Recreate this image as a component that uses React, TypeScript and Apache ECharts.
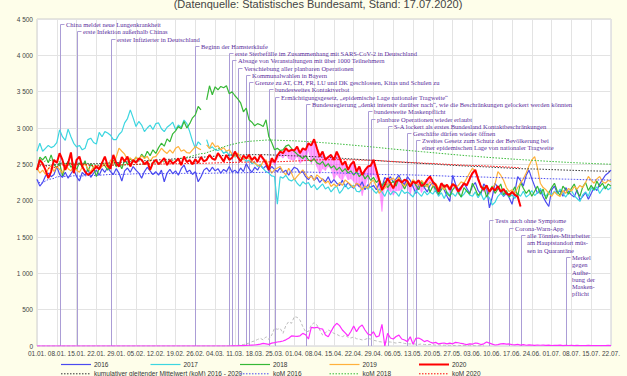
import React, { useEffect, useRef } from 'react';
import * as echarts from 'echarts';

const tickLabels = ['01.01.','08.01.','15.01.','22.01.','29.01.','05.02.','12.02.','19.02.','26.02.','04.03.','11.03.','18.03.','25.03.','01.04.','08.04.','15.04.','22.04.','29.04.','06.05.','13.05.','20.05.','27.05.','03.06.','10.06.','17.06.','24.06.','01.07.','08.07.','15.07.','22.07.'];

const d2016 = [
2290,2200,2250,2340,2380,2330,2360, 2470,2360,2320,2390,2310,2370,2430,
2330,2270,2390,2350,2440,2320,2380, 2420,2350,2440,2390,2460,2400,2360,
2440,2380,2270,2410,2450,2390,2470, 2420,2380,2310,2400,2460,2410,2360,
2400,2350,2420,2260,2380,2430,2370, 2410,2350,2440,2490,2390,2420,2360,
2400,2260,2330,2420,2450,2400,2460, 2410,2440,2380,2430,2400,2470,2390,
2420,2380,2450,2400,2510,2440,2390, 2460,2420,2490,2440,2480,2410,2470,
2430,2400,2450,2390,2420,2350,2410, 2460,2440,2380,2400,2330,2290,2350,
2280,2320,2250,2300,2260,2330,2240, 2290,2240,2210,2280,2190,2250,2200,
2170,2240,2190,2260,2150,2220,2180, 2210,2150,2240,2190,2320,2280,2330,
2250,2300,2350,2260,2220,2330,2280, 2190,2100,2220,2260,2180,2120,2210,
2250,2130,2080,2190,2150,2060,1990, 2350,2230,2150,2190,2240,2170,2100,
2200,2250,2140,2090,2230,2180,1900, 2050,2240,2180,2120,2060,2100,2040,
1950,2120,2330,2280,2200,2350,2420, 2300,2200,2100,2150,2050,1980,1920,
2150,2200,2100,2140,2060,2180,2120, 2080,2050,2150,2010,2060,2110,2020,
2100,2180,2140,2230,2290,2350,2380, 2420];

const d2017 = [
2680,2790,2680,2720,2760,2730,2750, 2800,2975,2880,2830,2985,2880,2790,
2740,2760,2700,2722,2840,2860,2800, 2780,2940,2880,2950,2930,2900,2840,
2840,2910,2950,3070,3130,3250,3140, 3020,3090,3040,2950,3000,3040,2980,
3060,3070,2990,2950,3010,3040,3080, 2980,3040,3010,3110,3060,2950,2820,
2720,2810,2770,null,2840,2720,2740, 2700,2690,2710,2650,2680,2620,2640,
2600,2620,2560,2580,2540,2560,2510, 2530,2470,2500,2440,2400,2380,2340,
2333,1950,2330,2310,2350,2290,2270, 2300,2240,2200,2260,2230,2250,2180,
2220,2150,2190,2230,2160,2190,2120, 2170,2200,2100,2150,2220,2160,2190,
2210,2130,2120,2170,2200,2160,2190, 2140,2100,2160,2120,2060,2150,2080,
2130,2110,2060,2150,2100,2120,2090, 2050,2140,2100,2060,2130,2080,2120,
2090,2150,2060,2110,2030,2120,2080, 2100,2060,2140,2050,2090,2150,2080,
2060,2120,2040,2100,2010,2070,2040, 1940,1980,2060,2100,2070,2120,2050,
2080,2030,2100,2060,2130,2050,2080, 2140,2070,2110,2170,2090,2060,2120,
2080,2130,2090,2160,2100,2050,2110, 2140,2070,2030,1990,2080,2120,2060,
2180,2140,2190,2100,2160,2200,2150, 2180];

const d2018 = [
2420,2600,2560,2610,2520,2630,2500, 2450,2520,2340,2480,2540,2460,2500,
2430,2520,2470,2550,2400,2500,2460, 2330,2450,2530,2480,2420,2500,2560,
2470,2520,2440,2560,2500,2580,2530, 2600,2560,2640,2590,2680,2620,2700,
2650,2730,2790,2750,2850,2810,2920, 2960,3020,2990,3090,3000,3060,3140,
3180,3296,3250,null,3388,3581,3457, 3567,3526,3572,3553,3581,3471,3499,
3444,3402,3347,3223,3274,3113,3080, 3030,3060,3044,3020,3113,2879,2800,
2700,2720,2690,2700,2750,2768,2720, 2676,2640,2610,2580,2620,2562,2540,
2580,2520,2500,2540,2470,2510,2450, 2480,2420,2460,2400,2440,2380,2410,
2350,2400,2330,2380,2300,2350,2280, 2320,2250,2290,2200,2260,2180,2230,
2270,2200,2320,2240,2160,2250,2190, 2280,2210,2150,2260,2190,2230,2120,
2200,2170,2090,2150,2220,2100,2060, 2150,2200,2110,2050,2180,2130,2090,
2240,2160,2070,2120,2190,2050,2130, 2200,2100,2160,2230,2080,2140,2050,
2120,2190,2060,2250,2170,2100,2150, 2060,2130,2200,2090,2160,2020,2110,
2180,2240,2130,2070,2200,2150,2090, 2170,2230,2120,2060,2190,2250,2140,
2210,2150,2270,2190,2240,2160,2230, 2200];

const d2019 = [
2450,2380,2420,2360,2440,2480,2400, 2470,2430,2380,2500,2440,2410,2480,
2420,2390,2460,2510,2440,2400,2470, 2480,2430,2470,2520,2450,2560,2510,
2600,2722,2680,2640,2560,2590,2540, 2600,2560,2620,2580,2610,2540,2600,
2607,2660,2722,2680,2650,2700,2653, 2720,2745,2680,2700,2660,2653,2700,
2745,2720,2700,null,2768,2720,2800, 2740,2755,2700,2730,2680,2700,2640,
2607,2653,2600,2562,2600,2580,2540, 2516,2490,2470,2540,2562,2460,2378,
2424,2450,2470,2400,2355,2447,2380, 2286,2333,2380,2424,2360,2309,2340,
2280,2355,2320,2290,2240,2270,2195, 2230,2195,2250,2210,2286,2250,2218,
2180,2240,2218,2148,2200,2170,2250, 2286,2200,2102,2150,2170,2230,2290,
2310,2260,2320,2240,2200,2260,2230, 2290,2250,2210,2280,2230,2190,2260,
2200,2240,2170,2195,2150,2210,2180, 2230,2180,2210,2260,2240,2310,2380,
2447,2400,2310,2200,2148,2190,2120, 2170,2230,2400,2350,2280,2180,2125,
2150,2100,2180,2240,2300,2380,2480, 2560,2607,2450,2240,2180,2150,2100,
2060,2120,2080,2057,2140,2100,2170, 2130,2195,2160,2210,2180,2250,2333,
2280,2240,2300,2333,2260,2240,2280, 2260];

const d2020 = [
2424,2562,2510,2424,2310,2400,2562, 2520,2653,2560,2424,2516,2663,2378,
2562,2607,2470,2400,2355,2380,2424, 2470,2430,2520,2607,2480,2440,2630,
2520,2470,2600,2540,2607,2470,2562, 2520,2580,2562,2500,2540,2424,2520,
2562,2500,2540,2585,2490,2560,2510, 2539,2580,2490,2607,2530,2560,2500,
2570,2520,2600,2540,2562,2630,2580, 2560,2653,2600,2539,2630,2562,2590,
2676,2600,2540,2620,2580,2630,2560, 2600,2540,2630,2580,2516,2424,2585,
2530,2620,2676,2653,2722,2680,2700, 2690,2745,2653,2720,2700,2790,2760,
2845,2722,2607,2676,2562,2600,2630, 2560,2676,2590,2493,2540,2424,2500,
2539,2400,2470,2355,2420,2470,2480, 2562,2424,2286,2148,2218,2310,2240,
2170,2264,2286,2250,2290,2270,2195, 2263,2240,2280,2200,2230,2290,2333,
2260,2218,2125,2240,2190,2218,2150, 2230,2200,2125,2180,2240,2210,2300,
2380,2424,2300,2195,2150,2210,2125, 2180,2140,2200,2125,2160,2100,2080,
2120,2080,2056,1920];

const covidDeaths = [
0,0,0,0,0,0,0,0,0,0, 0,0,0,0,0,0,0,0,0,0, 0,0,0,0,0,0,0,0,0,0,
0,0,0,0,0,0,0,0,0,0, 0,0,0,0,0,0,0,0,0,0, 0,0,0,0,0,0,0,0,0,0,
0,0,0,0,0,0,0,0,0,
2,2,3,4,5,8,10, 12,14,20,25,37,30,23, 40,46,55,60,69,85,106,
138,135,133,140,174,155,96, 257,250,257,240,234,150,128, 200,270,312,280,220,180,138,
200,275,197,260,289,220,165, 150,197,124,140,299,0,174, 110,96,130,150,96,83,60,
128,23,106,110,90,60,75, 55,40,50,28,35,41,30, 40,30,50,45,35,28,20,
30,25,41,35,20,30,55, 40,25,14,20,30,32,25, 28,20,15,22,12,18,10,
15,12,8,14,10,12,9, 11,7,10,8,12,6,9, 7,8,5,9,6,7,5,
8,6,5,7,4,6,5,8,6];

const covidReported = [
0,0,0,0,0,0,0,0,0,0, 0,0,0,0,0,0,0,0,0,0, 0,0,0,0,0,0,0,0,0,0,
0,0,0,0,0,0,0,0,0,0, 0,0,0,0,0,0,0,0,0,0, 0,0,0,0,0,0,0,0,0,0,
0,0,0,0,0,0,0,0,
2,3,5,8,12,20,30, 40,59,70,90,106,83,128, 92,150,243,230,243,174,280,
335,312,404,395,358,266,197, 200,289,321,289,220,151,180, 220,200,174,160,140,128,150,
120,110,125,100,95,83,90, 106,95,80,70,60,55,50, 58,55,48,40,50,45,35,
30,28,32,25,22,28,20, 18,22,15,12,16,10,12, 9,11,8,7,9,6,5,
6,4,5,3,4,3,2];

const eventDays = [8,14,26,56,68,69,71,74,75,82,84,95,117,118,124,131,134,160,167,171,187];
const eventLevels = [4430,4330,4230,4130,4030,3930,3830,3730,3630,3530,3430,3330,3230,3130,3030,2930,2830,1730,1630,1530,1230];
const eventTexts = [
  'China meldet neue Lungenkrankheit',
  'erste Infektion außerhalb Chinas',
  'erster Infizierter in Deutschland',
  'Beginn der Hamsterkäufe',
  'erste Sterbefälle im Zusammenhang mit SARS-CoV-2 in Deutschland',
  'Absage von Veranstaltungen mit über 1000 Teilnehmern',
  'Verschiebung aller planbaren Operationen',
  'Kommunalwahlen in Bayern',
  'Grenze zu AT, CH, FR, LU und DK geschlossen, Kitas und Schulen zu',
  'bundesweites Kontaktverbot',
  'Ermächtigungsgesetz, „epidemische Lage nationaler Tragweite“',
  'Bundesregierung „denkt intensiv darüber nach“, wie die Beschränkungen gelockert werden könnten',
  'bundesweite Maskenpflicht',
  'planbare Operationen wieder erlaubt',
  'S-A lockert als erstes Bundesland Kontaktbeschränkungen',
  'Geschäfte dürfen wieder öffnen',
  'Zweites Gesetz zum Schutz der Bevölkerung bei\neiner epidemischen Lage von nationaler Tragweite',
  'Tests auch ohne Symptome',
  'Corona-Warn-App',
  'alle Tönnies-Mitarbeiter\nam Hauptstandort müs-\nsen in Quarantäne',
  'Merkel\ngegen\nAufhe-\nbung der\nMasken-\npflicht',
];

const C2016 = '#4a4af0';
const C2017 = '#3cd6e0';
const C2018 = '#36b836';
const C2019 = '#ffb13b';
const C2020 = '#ff0000';
const CKOM = '#333333';
const CMAG = '#ff2cff';

function cumMean(arrs: (number | null)[][]): (number | null)[] {
  const len = Math.max(...arrs.map((a) => a.length));
  const out: (number | null)[] = [];
  let sum = 0;
  let cnt = 0;
  for (let i = 0; i < len; i++) {
    for (const a of arrs) {
      const v = a[i];
      if (v !== null && v !== undefined) { sum += v; cnt++; }
    }
    out.push(cnt ? sum / cnt : null);
  }
  return out;
}

const xy = (arr: (number | null)[]) => arr.map((v, i) => [i, v === null ? '-' : v]);

export default function App() {
  const ref = useRef<HTMLDivElement>(null);
  useEffect(() => {
    if (!ref.current) return;
    const chart = echarts.init(ref.current, undefined, { renderer: 'svg' });

    const kom2016 = cumMean([d2016]);
    const kom2018 = cumMean([d2018]);
    const kom2020 = cumMean([d2020]);
    const komAll = cumMean([d2016, d2017, d2018, d2019, d2020]);

    // band segments between 2020 total and 2020 minus COVID-19 deaths
    const bandData: number[][] = [];
    for (let i = 0; i < d2020.length - 1; i++) {
      if (covidDeaths[i] > 0 || covidDeaths[i + 1] > 0) {
        bandData.push([i, i + 1, d2020[i], d2020[i] - covidDeaths[i], d2020[i + 1], d2020[i + 1] - covidDeaths[i + 1]]);
      }
    }

    const lineSeries = (name: string, data: any[], color: string, width: number, z: number, type: any = 'solid') => ({
      name, type: 'line', data, symbol: 'none', showSymbol: false, z,
      lineStyle: { color, width, type }, itemStyle: { color },
      connectNulls: false, silent: true,
    });

    const legendItems = [
      { name: '2016', color: C2016, dash: 'solid', w: 1.2, col: 0, row: 0 },
      { name: '2017', color: C2017, dash: 'solid', w: 1.2, col: 1, row: 0 },
      { name: '2018', color: C2018, dash: 'solid', w: 1.2, col: 2, row: 0 },
      { name: '2019', color: C2019, dash: 'solid', w: 1.2, col: 3, row: 0 },
      { name: '2020', color: C2020, dash: 'solid', w: 2, col: 4, row: 0 },
      { name: 'kumulativer gleitender Mittelwert (koM) 2016 - 2020', color: CKOM, dash: [1.5, 1.5], w: 1, col: 0, row: 1 },
      { name: 'koM 2016', color: C2016, dash: [1.5, 1.5], w: 1, col: 2, row: 1 },
      { name: 'koM 2018', color: C2018, dash: [1.5, 1.5], w: 1, col: 3, row: 1 },
      { name: 'koM 2020', color: C2020, dash: [1.5, 1.5], w: 1, col: 4, row: 1 },
    ];
    const legendGraphics: any[] = [];
    legendItems.forEach((it) => {
      const x0 = 61 + it.col * 89.5;
      const y0 = 364.5 + it.row * 9.3;
      legendGraphics.push({
        type: 'line', shape: { x1: x0, y1: y0, x2: x0 + 30, y2: y0 },
        style: { stroke: it.color, lineWidth: it.w, lineDash: it.dash === 'solid' ? null : it.dash },
      });
      legendGraphics.push({
        type: 'text', x: x0 + 33, y: y0,
        style: { text: it.name, fill: '#333', fontSize: 6.5, fontFamily: 'Liberation Sans', verticalAlign: 'middle', align: 'left' },
      });
    });

    const option: any = {
      animation: false,
      backgroundColor: '#fefeea',
      graphic: [
        {
          type: 'text', x: 318, y: 9,
          style: { text: '(Datenquelle: Statistisches Bundesamt, Stand: 17.07.2020)', fill: '#444', fontSize: 11, fontFamily: 'Liberation Sans', align: 'center', verticalAlign: 'bottom' },
        },
        ...legendGraphics,
      ],
      grid: { left: 37, right: 16, top: 19, bottom: 30, show: true, backgroundColor: '#ffffff', borderColor: '#cfcfcf', borderWidth: 1 },
      xAxis: {
        type: 'value', min: 0, max: 203, interval: 7,
        axisLine: { show: false }, axisTick: { show: false },
        axisLabel: { formatter: (v: number) => tickLabels[Math.round(v / 7)] ?? '', fontSize: 6.5, color: '#444', fontFamily: 'Liberation Sans', margin: 4, showMaxLabel: true, showMinLabel: true },
        splitLine: { show: true, lineStyle: { color: '#e3e3e3', width: 1 } },
      },
      yAxis: {
        type: 'value', min: 0, max: 4500, interval: 500,
        axisLine: { show: false }, axisTick: { show: false },
        axisLabel: {
          formatter: (v: number) => (v >= 1000 ? Math.floor(v / 1000) + ' ' + String(v % 1000).padStart(3, '0') : String(v)),
          fontSize: 6.5, color: '#444', fontFamily: 'Liberation Sans', margin: 4,
        },
        splitLine: { show: true, lineStyle: { color: '#e3e3e3', width: 1 } },
      },
      series: [
        {
          type: 'custom', name: 'Ereignisse', z: 1, clip: false, silent: true,
          data: eventDays.map((d, i) => [d, eventLevels[i], i]),
          encode: { x: 0, y: 1 },
          renderItem: (params: any, api: any) => {
            const d = api.value(0);
            const lvl = api.value(1);
            const idx = api.value(2);
            const p = api.coord([d, lvl]);
            const b = api.coord([d, 0]);
            const x = Math.round(p[0]) + 0.5;
            const y = Math.round(p[1]) + 0.5;
            return {
              type: 'group',
              children: [
                { type: 'line', shape: { x1: x, y1: y, x2: x, y2: b[1] }, style: { stroke: '#ab9dd6', lineWidth: 1 } },
                { type: 'line', shape: { x1: x, y1: y, x2: x + 4, y2: y }, style: { stroke: '#ab9dd6', lineWidth: 1 } },
                {
                  type: 'text', x: x + 5.5, y: y - 3.65,
                  style: { text: eventTexts[idx], fill: '#5a2d9c', fontSize: 6.5, fontFamily: 'Liberation Serif', lineHeight: 7.3, verticalAlign: 'top', align: 'left' },
                },
              ],
            };
          },
        },
        lineSeries('2016', xy(d2016), C2016, 1.2, 3),
        lineSeries('2017', xy(d2017), C2017, 1.2, 3),
        lineSeries('2018', xy(d2018), C2018, 1.2, 3),
        lineSeries('2019', xy(d2019), C2019, 1.2, 3),
        {
          type: 'custom', name: 'Übersterblichkeit COVID-19', z: 3, silent: true,
          data: bandData,
          encode: { x: [0, 1], y: [2, 3, 4, 5] },
          renderItem: (params: any, api: any) => {
            const a = api.coord([api.value(0), api.value(2)]);
            const b = api.coord([api.value(1), api.value(4)]);
            const c = api.coord([api.value(1), api.value(5)]);
            const d = api.coord([api.value(0), api.value(3)]);
            return {
              type: 'polygon',
              shape: { points: [a, b, c, d] },
              style: { fill: 'rgba(255,0,255,0.32)', stroke: 'rgba(255,0,255,0.32)', lineWidth: 0.4 },
            };
          },
        },
        lineSeries('kumulativer gleitender Mittelwert (koM) 2016 - 2020', xy(komAll), CKOM, 1, 4, [1.5, 1.5]),
        lineSeries('koM 2016', xy(kom2016), C2016, 1, 4, [1.5, 1.5]),
        lineSeries('koM 2018', xy(kom2018), C2018, 1, 4, [1.5, 1.5]),
        lineSeries('koM 2020', xy(kom2020), C2020, 1, 4, [1.5, 1.5]),
        lineSeries('COVID-19 gemeldet', xy(covidReported), '#bdbdbd', 1, 3, [3, 2]),
        lineSeries('COVID-19 Sterbefälle', xy(covidDeaths), CMAG, 1.2, 4),
        lineSeries('2020', xy(d2020), C2020, 2, 5),
      ],
    };
    chart.setOption(option);
    return () => chart.dispose();
  }, []);
  return <div ref={ref} style={{ position: 'absolute', left: 0, top: 0, width: 627, height: 376 }} />;
}
